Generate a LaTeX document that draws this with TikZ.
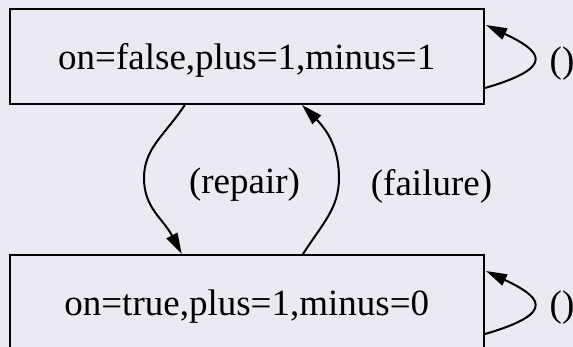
\documentclass[tikz,border=0pt]{standalone}
\usepackage{fontspec}
\setmainfont{Liberation Serif}
\usetikzlibrary{arrows.meta,calc}
\definecolor{bgc}{HTML}{EAEAF2}
\begin{document}
\begin{tikzpicture}[x=1pt,y=-1pt,
  statebox/.style={draw=black,line width=2pt,minimum width=474.5pt,minimum height=95pt,inner sep=0pt,font=\fontsize{37}{40}\selectfont,text height=35pt,text depth=8pt},
  edge/.style={draw=black,line width=2pt,-{Triangle[length=21pt,width=12pt]}},
  elabel/.style={inner sep=0pt,font=\fontsize{37}{40}\selectfont}]
\useasboundingbox (0,0) rectangle (573,347);
\fill[bgc] (0,0) rectangle (573,347);
\clip (0,0) rectangle (573,347);
\node[statebox] (top) at (246.75,56.5) {on=false,plus=1,minus=1};
\node[statebox] (bot) at (246.75,302.5) {on=true,plus=1,minus=0};
\coordinate (mrepair) at (144,178);
\coordinate (mfailure) at (339,178);
\draw[edge] ($(top.south)+(-62,0)$) .. controls (165,135) and (144,148) .. (mrepair)
  .. controls (144,208) and (162.7,218) .. ($(bot.north)+(-65,0)$);
\draw[edge] ($(bot.north)+(56.25,0)$) .. controls (323,223) and (339,208) .. (mfailure)
  .. controls (339,148) and (327,130) .. ($(top.south)+(55.25,0)$);
\draw[edge] ($(top.east)+(0,31.5)$) .. controls +(74,-21.5) and +(53.7,25.5) .. ($(top.east)+(1,-31.5)$);
\draw[edge] ($(bot.east)+(0,31.5)$) .. controls +(74,-21.5) and +(53.7,25.5) .. ($(bot.east)+(1,-31.5)$);
\node[elabel] (lrepair) at (244.5,185) {(repair)};
\node[elabel] (lfailure) at (431.5,186) {(failure)};
\node[elabel] (lloopt) at (562,63.5) {()};
\node[elabel] (lloopb) at (562,307.5) {()};
\end{tikzpicture}
\end{document}
